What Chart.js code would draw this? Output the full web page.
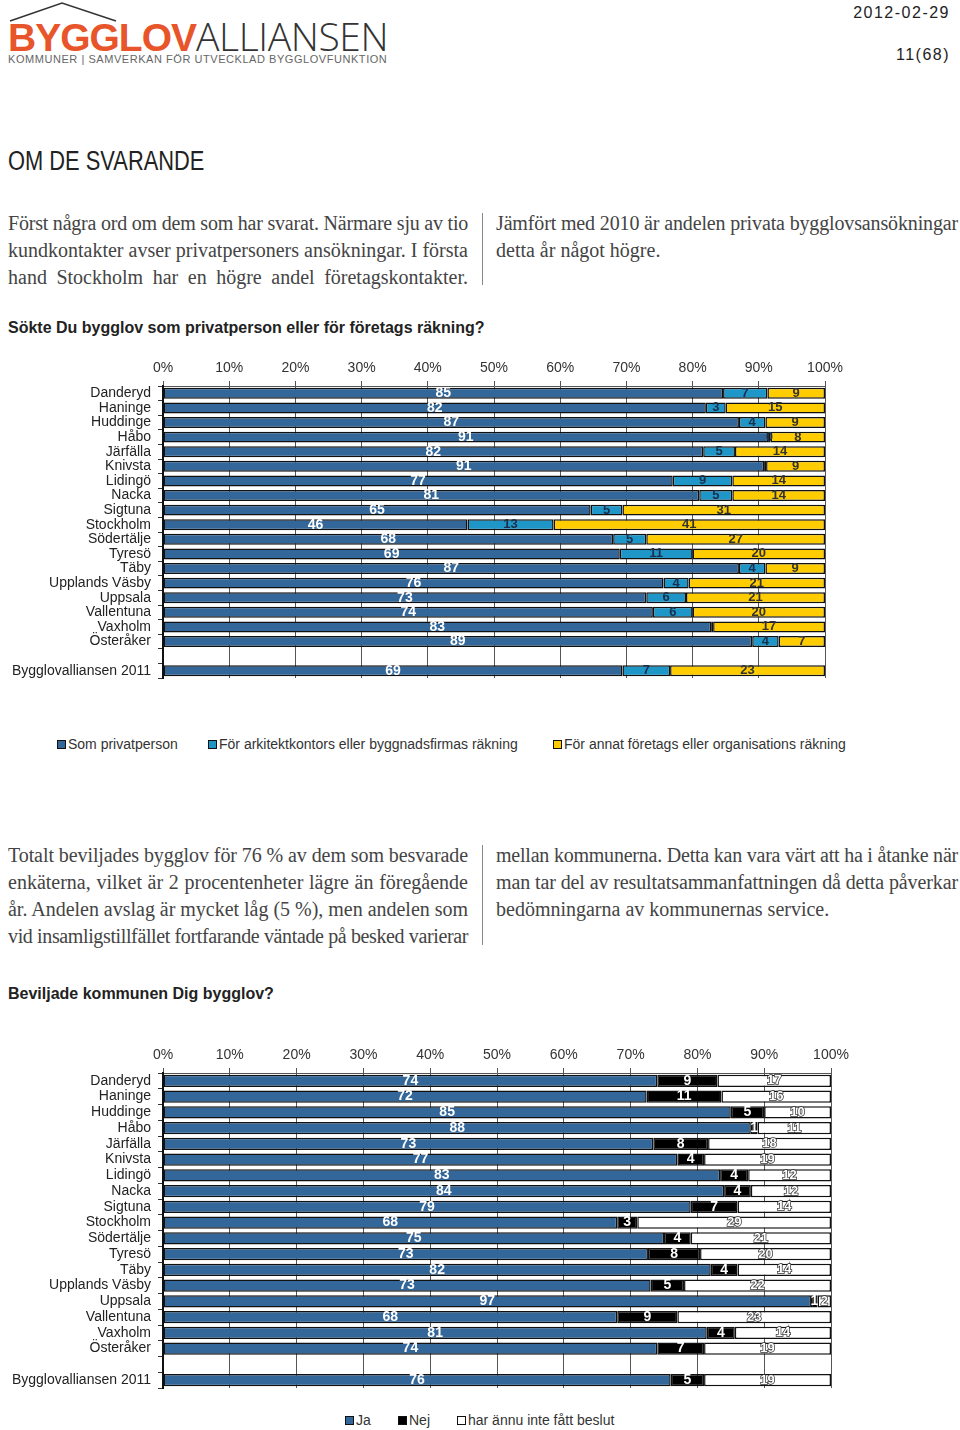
<!DOCTYPE html>
<html lang="sv">
<head>
<meta charset="utf-8">
<script src="https://cdn.jsdelivr.net/npm/chart.js@4.4.1/dist/chart.umd.min.js"></script>
<style>
	html, body { margin: 0; padding: 0; background: #fff; }
	body { position: relative; width: 960px; height: 1430px; overflow: hidden; font-family: "Liberation Sans", Arial, sans-serif; color: #222; }
	.abs { position: absolute; }
	.logo-main { left: 8px; top: 14px; font-size: 39px; line-height: 44px; white-space: nowrap; }
	.logo-main b { color: #e8552a; font-weight: bold; letter-spacing: -1px; }
	.logo-main span { color: #333; font-weight: 300; font-family: "Open Sans", "Liberation Sans", sans-serif; letter-spacing: -0.4px; }
	.logo-sub { left: 8px; top: 53px; font-size: 11px; color: #666; letter-spacing: 0.55px; white-space: nowrap; }
	.date { right: 10px; top: 4px; font-size: 16px; letter-spacing: 1.5px; color: #222; }
	.page { right: 10px; top: 46px; font-size: 16px; letter-spacing: 1.5px; color: #222; }
	.heading { left: 8px; top: 146px; font-size: 27px; white-space: nowrap; transform: scaleX(0.81); transform-origin: left top; color: #222; }
	.col { font-family: "Liberation Serif", "DejaVu Serif", serif; font-size: 20px; line-height: 27px; color: #444; }
	.col div { text-align: justify; text-align-last: justify; white-space: nowrap; }
	.col div.last { text-align-last: left; }
	.rule { width: 1px; background: #888; left: 482px; }
	.ctitle { left: 8px; font-size: 16px; font-weight: bold; color: #222; white-space: nowrap; }
	.legend { font-size: 14px; color: #333; white-space: nowrap; }
	.legend span.box { display: inline-block; width: 7px; height: 7px; border: 1.5px solid #111; margin-right: 2px; vertical-align: 0px; }
	canvas { position: absolute; left: 0; }
</style>
</head>
<body>
	<svg class="abs" style="left:0;top:0" width="130" height="24"><polyline points="10,21 62,3 116,21" fill="none" stroke="#333" stroke-width="1.5"/></svg>
	<div class="abs logo-main"><b>BYGGLOV</b><span>ALLIANSEN</span></div>
	<div class="abs logo-sub">KOMMUNER | SAMVERKAN FÖR UTVECKLAD BYGGLOVFUNKTION</div>
	<div class="abs date">2012-02-29</div>
	<div class="abs page">11(68)</div>

	<div class="abs heading">OM DE SVARANDE</div>

	<div class="abs col" style="left:8px;top:210px;width:460px">
		<div>Först några ord om dem som har svarat. Närmare sju av tio</div>
		<div>kundkontakter avser privatpersoners ansökningar. I första</div>
		<div>hand Stockholm har en högre andel företagskontakter.</div>
	</div>
	<div class="abs rule" style="top:213px;height:72px"></div>
	<div class="abs col" style="left:496px;top:210px;width:462px">
		<div>Jämfört med 2010 är andelen privata bygglovsansökningar</div>
		<div class="last">detta år något högre.</div>
	</div>

	<div class="abs ctitle" style="top:319px">Sökte Du bygglov som privatperson eller för företags räkning?</div>
	<canvas id="chart1" style="top:350px" width="960" height="330"></canvas>
	<div class="abs legend" id="legend1" style="top:736px;left:0;width:960px"></div>

	<div class="abs col" style="left:8px;top:842px;width:460px">
		<div>Totalt beviljades bygglov för 76 % av dem som besvarade</div>
		<div>enkäterna, vilket är 2 procentenheter lägre än föregående</div>
		<div>år. Andelen avslag är mycket låg (5 %), men andelen som</div>
		<div>vid insamligstillfället fortfarande väntade på besked varierar</div>
	</div>
	<div class="abs rule" style="top:845px;height:100px"></div>
	<div class="abs col" style="left:496px;top:842px;width:462px">
		<div>mellan kommunerna. Detta kan vara värt att ha i åtanke när</div>
		<div>man tar del av resultatsammanfattningen då detta påverkar</div>
		<div class="last">bedömningarna av kommunernas service.</div>
	</div>

	<div class="abs ctitle" style="top:985px">Beviljade kommunen Dig bygglov?</div>
	<canvas id="chart2" style="top:1040px" width="960" height="350"></canvas>
	<div class="abs legend" id="legend2" style="top:1412px;left:0;width:960px"></div>

<script>
const municipalities = ['Danderyd', 'Haninge', 'Huddinge', 'Håbo', 'Järfälla', 'Knivsta', 'Lidingö', 'Nacka', 'Sigtuna', 'Stockholm', 'Södertälje', 'Tyresö', 'Täby', 'Upplands Väsby', 'Uppsala', 'Vallentuna', 'Vaxholm', 'Österåker', '', 'Bygglovalliansen 2011'];
const xTicks = [0, 10, 20, 30, 40, 50, 60, 70, 80, 90, 100];

// Sökte Du bygglov som privatperson eller för företags räkning? (andel %, labels are rounded)
const privatperson = [84.6, 82, 87, 91.4, 81.6, 90.8, 77, 81, 64.6, 46, 68, 69, 87, 75.6, 73, 74, 82.8, 89, null, 69.4];
const arkitekt = [6.7, 3, 4, 0.4, 4.8, 0.3, 9, 5, 4.8, 13, 5, 11, 4, 3.8, 6, 6, 0.3, 4, null, 7.2];
const annatForetag = [8.7, 15, 9, 8.2, 13.6, 8.9, 14, 14, 30.6, 41, 27, 20, 9, 20.6, 21, 20, 16.9, 7, null, 23.4];

// Beviljade kommunen Dig bygglov?
const ja = [74, 72.4, 85, 88, 73.4, 77, 83.4, 84, 79, 68, 75, 72.6, 82, 73, 97, 68, 81.4, 74, null, 76];
const nej = [9, 11.2, 5, 1, 8.2, 4, 4.2, 4, 7, 3, 4, 7.8, 4, 5, 1, 9, 4.2, 7, null, 5];
const ejBeslut = [17, 16.4, 10, 11, 18.4, 19, 12.4, 12, 14, 29, 21, 19.6, 14, 22, 2, 23, 14.4, 19, null, 19];

const blue = '#336699';
const cyan = '#1e96c8';
const yellow = '#ffcc00';

// justified text lines: squeeze any line that is wider than its column
document.querySelectorAll('.col div').forEach(line => {
	const target = line.parentElement.clientWidth;
	line.style.display = 'inline-block';
	const w = line.getBoundingClientRect().width;
	line.style.display = '';
	if (w > target) {
		line.style.letterSpacing = ((target - w) / line.textContent.length).toFixed(3) + 'px';
	}
});

const barLabels = {
	id: 'barLabels',
	afterDatasetsDraw(chart) {
		const ctx = chart.ctx;
		ctx.save();
		ctx.textAlign = 'center';
		ctx.textBaseline = 'middle';
		chart.data.datasets.forEach((ds, i) => {
			const meta = chart.getDatasetMeta(i);
			meta.data.forEach((bar, j) => {
				const v = ds.data[j];
				if (v == null || v < 0.35) return;
				const x = (bar.x + bar.base) / 2;
				ctx.font = `bold ${ds.labelSize || 14}px "Liberation Sans", Arial, sans-serif`;
				if (ds.labelStroke) {
					ctx.lineWidth = 1.5;
					ctx.strokeStyle = ds.labelStroke;
					ctx.strokeText(Math.round(v), x, bar.y);
				}
				ctx.fillStyle = ds.labelColor;
				ctx.fillText(Math.round(v), x, bar.y);
			});
		});
		ctx.restore();
	}
};

function buildOptions(xHeight, rightPad) {
	return {
		responsive: false,
		animation: false,
		indexAxis: 'y',
		layout: { padding: { right: rightPad, bottom: 2, top: 0, left: 0 } },
		plugins: { legend: { display: false }, tooltip: { enabled: false } },
		scales: {
			x: {
				position: 'top',
				stacked: true,
				min: 0,
				max: 100,
				afterBuildTicks: axis => { axis.ticks = xTicks.map(v => ({ value: v })); },
				afterFit: axis => { axis.height = xHeight; },
				ticks: {
					callback: v => v + '%',
					color: '#333',
					padding: 4,
					font: { family: '"Liberation Sans", Arial, sans-serif', size: 14 }
				},
				grid: { color: '#555', lineWidth: 1, tickLength: 5 },
				border: { display: true, color: '#555' }
			},
			y: {
				stacked: true,
				afterFit: axis => {
					axis.width = 163;
					axis.paddingTop = 0;
					axis.paddingBottom = 0;
				},
				ticks: {
					color: '#222',
					padding: 7,
					autoSkip: false,
					font: { family: '"Liberation Sans", Arial, sans-serif', size: 14 }
				},
				grid: { offset: true, drawOnChartArea: false, color: '#333', tickLength: 5 },
				border: { display: true, color: '#111', width: 2 }
			}
		}
	};
}

function barSet(label, data, color, labelColor, extra) {
	return Object.assign({
		label: label,
		data: data,
		backgroundColor: color,
		borderColor: '#111',
		borderWidth: 1.5,
		borderSkipped: false,
		labelColor: labelColor
	}, extra || {});
}

function renderLegend(el, datasets, positions) {
	el.innerHTML = datasets.map((ds, i) => `
		<span style="position:absolute;left:${positions[i]}px"><span class="box" style="background:${ds.backgroundColor}"></span>${ds.label}</span>
	`).join('');
}

const chart1Sets = [
	barSet('Som privatperson', privatperson, blue, '#fff', { barPercentage: 0.75, categoryPercentage: 1 }),
	barSet('För arkitektkontors eller byggnadsfirmas räkning', arkitekt, cyan, '#1b2f4a', { barPercentage: 0.75, categoryPercentage: 1, labelSize: 13 }),
	barSet('För annat företags eller organisations räkning', annatForetag, yellow, '#333', { barPercentage: 0.75, categoryPercentage: 1, labelSize: 13 })
];

new Chart(document.getElementById('chart1').getContext('2d'), {
	type: 'bar',
	data: { labels: municipalities, datasets: chart1Sets },
	options: buildOptions(36, 960 - 825),
	plugins: [barLabels]
});
renderLegend(document.getElementById('legend1'), chart1Sets, [57, 208, 553]);

const chart2Sets = [
	barSet('Ja', ja, blue, '#fff', { barPercentage: 0.78, categoryPercentage: 1 }),
	barSet('Nej', nej, '#000', '#fff', { barPercentage: 0.78, categoryPercentage: 1 }),
	barSet('har ännu inte fått beslut', ejBeslut, '#fff', '#fff', { barPercentage: 0.78, categoryPercentage: 1, labelSize: 13, labelStroke: '#333' })
];

new Chart(document.getElementById('chart2').getContext('2d'), {
	type: 'bar',
	data: { labels: municipalities, datasets: chart2Sets },
	options: buildOptions(33, 960 - 831),
	plugins: [barLabels]
});
renderLegend(document.getElementById('legend2'), chart2Sets, [345, 398, 457]);
</script>
</body>
</html>
